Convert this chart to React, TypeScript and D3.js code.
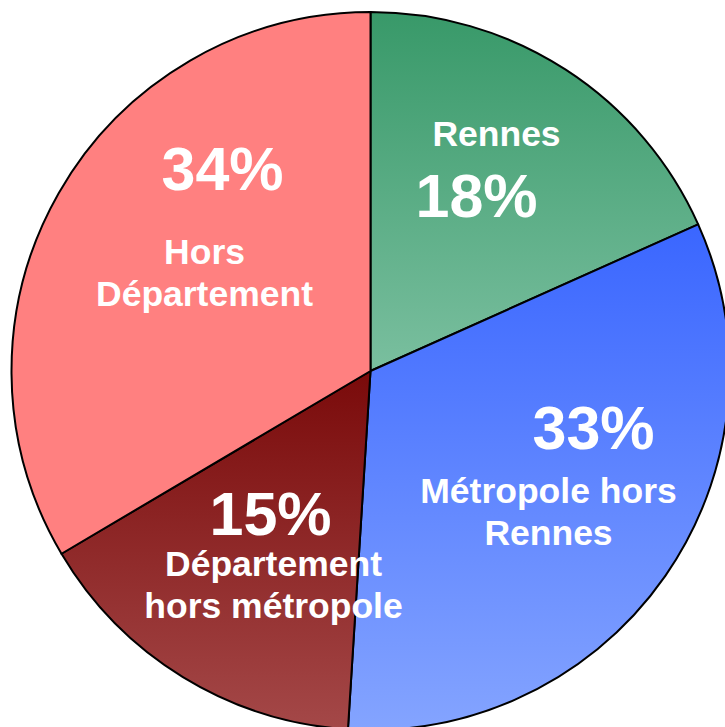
import React, { useEffect, useRef } from "react";
import * as d3 from "d3";

// slice data, clockwise from 12 o'clock (shares)
const categories = ["Rennes", "Métropole hors Rennes", "Département hors métropole", "Hors Département"];
const shares = [18.3, 32.7, 15.5, 33.5];
const percentLabels = ["18%", "33%", "15%", "34%"];
const nameLines = [["Rennes"], ["Métropole hors", "Rennes"], ["Département", "hors métropole"], ["Hors", "Département"]];

// vertical gradients (top, bottom) per slice
const gradTop = ["#389969", "#3a66ff", "#7a0a0a", "#ff8080"];
const gradBottom = ["#7abf9f", "#84a4ff", "#a44848", "#ff8080"];

const W = 725;
const H = 727;

const App = () => {
  const ref = useRef<SVGSVGElement>(null);

  useEffect(() => {
    const svg = d3.select(ref.current).attr("width", W).attr("height", H);
    svg.selectAll("*").remove();

    const cx = 370.5;
    const cy = 371;
    const radius = 359;

    const data = categories.map((c, i) => ({ name: c, value: shares[i], i }));

    const defs = svg.append("defs");
    data.forEach((d) => {
      const g = defs.append("linearGradient")
        .attr("id", `grad${d.i}`)
        .attr("x1", 0).attr("y1", 0)
        .attr("x2", 0).attr("y2", 1);
      g.append("stop").attr("offset", "0%").attr("stop-color", gradTop[d.i]);
      g.append("stop").attr("offset", "100%").attr("stop-color", gradBottom[d.i]);
    });

    const pie = d3.pie<any>().sort(null).value((d) => d.value);
    const arc = d3.arc<any>().innerRadius(0).outerRadius(radius);

    const g = svg.append("g").attr("transform", `translate(${cx},${cy})`);

    g.selectAll("path.slice")
      .data(pie(data))
      .enter()
      .append("path")
      .attr("class", "slice")
      .attr("d", arc)
      .attr("fill", (d) => `url(#grad${d.data.i})`)
      .attr("stroke", "#000")
      .attr("stroke-width", 2)
      .attr("stroke-linejoin", "round");

    // label layout: position of percent and name block, relative to pie centre
    const labelLayout = [
      { px: 106, py: -154, nx: 126, ny: -225 },
      { px: 223, py: 78, nx: 178, ny: 132 },
      { px: -100, py: 164, nx: -97, ny: 205 },
      { px: -148, py: -181, nx: -166, ny: -107 },
    ];
    const font = "'Liberation Sans', Arial, sans-serif";

    data.forEach((d) => {
      const L = labelLayout[d.i];
      g.append("text")
        .attr("x", L.px)
        .attr("y", L.py)
        .attr("text-anchor", "middle")
        .style("font-family", font)
        .style("font-weight", "bold")
        .style("font-size", "61px")
        .style("fill", "white")
        .text(percentLabels[d.i]);

      nameLines[d.i].forEach((line, k) => {
        g.append("text")
          .attr("x", L.nx)
          .attr("y", L.ny + k * 42)
          .attr("text-anchor", "middle")
          .style("font-family", font)
          .style("font-weight", "bold")
          .style("font-size", "35.5px")
          .style("fill", "white")
          .text(line);
      });
    });
  }, []);

  return (
    <div style={{ position: "absolute", left: 0, top: 0 }}>
      <svg ref={ref} style={{ display: "block" }}></svg>
    </div>
  );
};

export default App;
